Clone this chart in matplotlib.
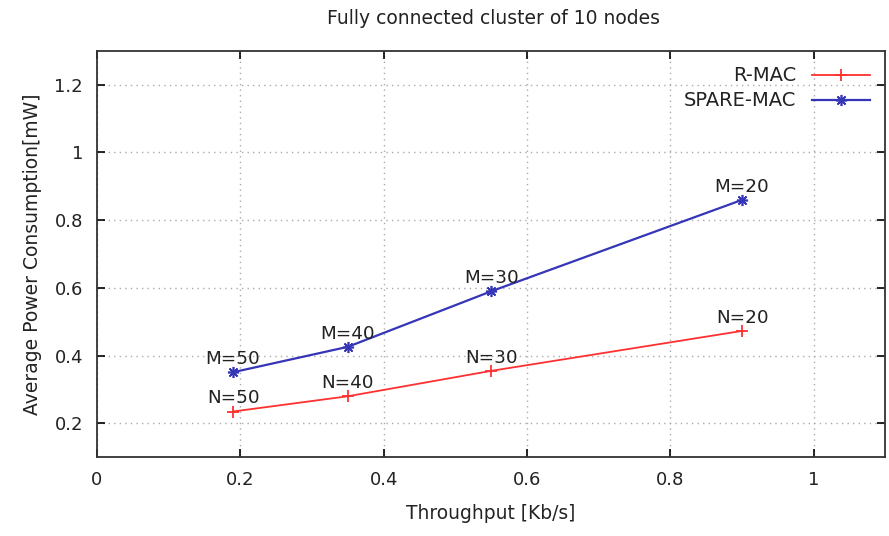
import matplotlib.pyplot as plt

# --- data ---
rmac_x = [0.19, 0.35, 0.55, 0.90]
rmac_y = [0.235, 0.28, 0.355, 0.473]
rmac_labels = ["N=50", "N=40", "N=30", "N=20"]

spare_x = [0.19, 0.35, 0.55, 0.90]
spare_y = [0.351, 0.426, 0.59, 0.86]
spare_labels = ["M=50", "M=40", "M=30", "M=20"]

xticks = [0, 0.2, 0.4, 0.6, 0.8, 1]
yticks = [0.2, 0.4, 0.6, 0.8, 1, 1.2]

plt.rcParams['font.family'] = ['DejaVu Sans']

fig = plt.figure(figsize=(8.89, 5.36), dpi=100)
ax = fig.add_axes([0.109, 0.147, 0.887, 0.758])

ax.plot(rmac_x, rmac_y, color="#ff3030", lw=1.3, marker="+", ms=9, mew=1.3, label="R-MAC")
ax.plot(spare_x, spare_y, color="#3535b8", lw=1.6, marker=(8, 2, 0), ms=8, mew=1.2, label="SPARE-MAC")

for x, y, s in zip(rmac_x, rmac_y, rmac_labels):
    ax.annotate(s, (x, y), xytext=(0, 3), textcoords="offset points",
                ha="center", va="bottom", fontsize=13.2, color="#222222")
for x, y, s in zip(spare_x, spare_y, spare_labels):
    ax.annotate(s, (x, y), xytext=(0, 3), textcoords="offset points",
                ha="center", va="bottom", fontsize=13.2, color="#222222")

ax.set_xlim(0, 1.1)
ax.set_ylim(0.1, 1.3)
ax.set_xticks(xticks)
ax.set_xticklabels(["0", "0.2", "0.4", "0.6", "0.8", "1"])
ax.set_yticks(yticks)
ax.set_yticklabels(["0.2", "0.4", "0.6", "0.8", "1", "1.2"])
ax.tick_params(direction="in", top=True, right=True, length=6, width=1.2,
               labelsize=13, labelcolor="#222222", pad=10)
ax.grid(True, color="#aaaaaa", linestyle=(0, (1, 3)), lw=1.0)
for sp in ax.spines.values():
    sp.set_linewidth(1.3)
    sp.set_color("#333333")

ax.set_xlabel("Throughput [Kb/s]", fontsize=13.4, color="#222222", labelpad=11)
ax.set_ylabel("Average Power Consumption[mW]", fontsize=13.5, color="#222222", labelpad=9)
fig.text(0.555, 0.965, "Fully connected cluster of 10 nodes", ha="center", va="center",
         fontsize=13.5, color="#222222")

leg = ax.legend(loc="upper right", frameon=False, markerfirst=False, fontsize=14,
                handlelength=3.0, borderaxespad=0.4, labelspacing=0.3)
for t in leg.get_texts():
    t.set_color("#222222")

fig.savefig("out.png", dpi=100)
